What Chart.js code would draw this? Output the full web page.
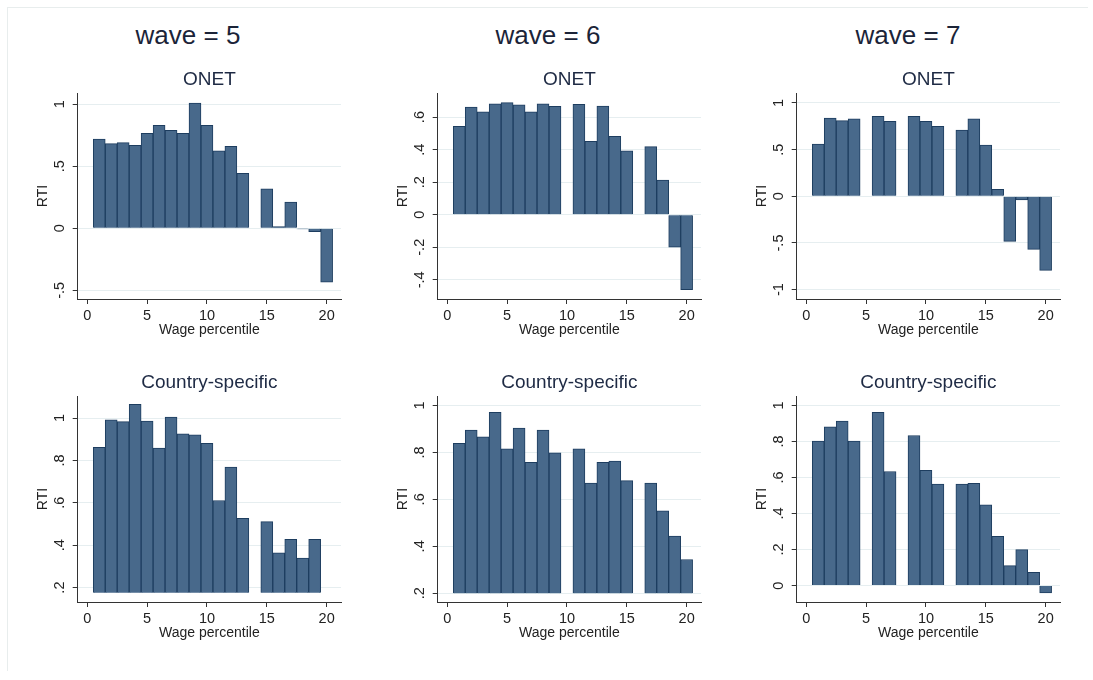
<!DOCTYPE html>
<html>
<head>
<meta charset="utf-8">
<script src="https://cdn.jsdelivr.net/npm/chart.js@4.4.1/dist/chart.umd.min.js"></script>
<style>
  body { margin: 0; background: #fff; width: 1093px; height: 680px; position: relative; overflow: hidden; font-family: 'Liberation Sans', Arial, sans-serif; }
  .frame { position: absolute; left: 7px; top: 7px; width: 1080px; height: 663px; border-left: 1px solid #e8eded; border-top: 1px solid #e8eded; }
  .wave { position: absolute; top: 20px; width: 200px; text-align: center; font-size: 26px; line-height: 30px; color: #1b2438; }
  .panel { position: absolute; }
</style>
</head>
<body>
<div class="frame"></div>
<div class="wave" style="left: 88px;">wave = 5</div>
<div class="wave" style="left: 448px;">wave = 6</div>
<div class="wave" style="left: 808px;">wave = 7</div>
<div id="panels"></div>
<script>
// wage percentiles 1..20, null = no bar
const percentiles = [1,2,3,4,5,6,7,8,9,10,11,12,13,14,15,16,17,18,19,20];

const onetWave5 = [0.718,0.682,0.690,0.669,0.766,0.830,0.790,0.766,1.008,0.830,0.623,0.661,0.443,null,0.317,0.013,0.210,-0.005,-0.027,-0.435];
const onetWave6 = [0.543,0.662,0.633,0.682,0.689,0.676,0.633,0.682,0.666,null,0.678,0.451,0.668,0.482,0.393,null,0.418,0.213,-0.199,-0.461];
const onetWave7 = [0.561,0.839,0.811,0.829,null,0.857,0.804,null,0.857,0.804,0.750,null,0.711,0.829,0.550,0.075,-0.482,-0.039,-0.568,-0.793];

const countryWave5 = [0.862,0.992,0.983,1.065,0.986,0.858,1.005,0.926,0.921,0.881,0.611,0.769,0.527,null,0.511,0.364,0.428,0.339,0.428,null];
const countryWave6 = [0.838,0.895,0.866,0.970,0.815,0.903,0.758,0.895,0.798,null,0.815,0.669,0.758,0.763,0.680,null,0.669,0.551,0.444,0.344];
const countryWave7 = [0.802,0.881,0.913,0.802,null,0.961,0.633,null,0.833,0.639,0.563,null,0.563,0.567,0.448,0.274,0.111,0.200,0.074,-0.041];

const xTicks = [0, 5, 10, 15, 20];
const onetTicks5 = [-0.5, 0, 0.5, 1];
const onetTicks6 = [-0.4, -0.2, 0, 0.2, 0.4, 0.6];
const onetTicks7 = [-1, -0.5, 0, 0.5, 1];
const countryTicks5 = [0.2, 0.4, 0.6, 0.8, 1];
const countryTicks6 = [0.2, 0.4, 0.6, 0.8, 1];
const countryTicks7 = [0, 0.2, 0.4, 0.6, 0.8, 1];

// bar base of each panel
const baseOnet = 0;
const baseCountry5 = 0.176;
const baseCountry6 = 0.2;
const baseCountry7 = 0;

const panels = [
  { title: 'ONET', values: onetWave5, base: baseOnet, ticks: onetTicks5, min: -0.57, max: 1.09, col: 0, row: 0 },
  { title: 'ONET', values: onetWave6, base: baseOnet, ticks: onetTicks6, min: -0.518, max: 0.748, col: 1, row: 0 },
  { title: 'ONET', values: onetWave7, base: baseOnet, ticks: onetTicks7, min: -1.1, max: 1.107, col: 2, row: 0 },
  { title: 'Country-specific', values: countryWave5, base: baseCountry5, ticks: countryTicks5, min: 0.132, max: 1.104, col: 0, row: 1 },
  { title: 'Country-specific', values: countryWave6, base: baseCountry6, ticks: countryTicks6, min: 0.163, max: 1.04, col: 1, row: 1 },
  { title: 'Country-specific', values: countryWave7, base: baseCountry7, ticks: countryTicks7, min: -0.091, max: 1.052, col: 2, row: 1 },
];

const axisX = [77.7, 437.3, 796.7];
const rowTop = [60, 363];
const axisLeft = 67.7;
const canvasW = 340;
const canvasH = 279;
const tickFont = { family: 'Liberation Sans', size: 14.5 };
const textColor = '#222';
const axisColor = '#333';

// Stata style labels: .5 instead of 0.5
function stataFmt(v) {
  const s = String(Math.round(v * 10) / 10);
  return s.replace(/^(-?)0\./, '$1.');
}

const measure = document.createElement('canvas').getContext('2d');
measure.font = '14.5px "Liberation Sans"';

function buildPanel(p) {
  const wrap = document.createElement('div');
  wrap.className = 'panel';
  wrap.style.left = (axisX[p.col] - axisLeft) + 'px';
  wrap.style.top = rowTop[p.row] + 'px';
  const canvas = document.createElement('canvas');
  canvas.width = canvasW;
  canvas.height = canvasH;
  wrap.appendChild(canvas);
  document.getElementById('panels').appendChild(wrap);

  const points = [];
  percentiles.forEach((x, i) => {
    if (p.values[i] !== null) {
      points.push({ x: x, y: [p.base, p.values[i]] });
    }
  });

  // keep rotated y labels centred on one line
  const widest = Math.max(...p.ticks.map((t) => measure.measureText(stataFmt(t)).width));
  const yPad = 12.7 - widest / 2;

  new Chart(canvas, {
    type: 'bar',
    data: {
      datasets: [
        {
          data: points,
          backgroundColor: '#48698b',
          borderColor: '#1d3d5f',
          borderWidth: 1,
          borderSkipped: 'start',
          barPercentage: 1,
          categoryPercentage: 1,
        },
      ],
    },
    options: {
      responsive: false,
      animation: false,
      layout: { padding: { left: 0, right: 9, top: 0, bottom: 0 } },
      plugins: {
        legend: { display: false },
        tooltip: { enabled: false },
        title: {
          display: true,
          fullSize: false,
          text: p.title,
          color: '#1e2a44',
          font: { family: 'Liberation Sans', size: 19, weight: 'normal' },
          padding: { top: 8.6, bottom: 1.6 },
        },
      },
      scales: {
        x: {
          type: 'linear',
          min: -0.8,
          max: 21.2,
          offset: false,
          afterBuildTicks: (scale) => { scale.ticks = xTicks.map((v) => ({ value: v })); },
          afterFit: (scale) => { scale.height = 40; },
          grid: { offset: false, drawOnChartArea: false, tickLength: 5, tickColor: axisColor },
          border: { color: axisColor, width: 1 },
          ticks: { color: textColor, font: tickFont, padding: 3, maxRotation: 0 },
          title: {
            display: true,
            text: 'Wage percentile',
            color: textColor,
            font: { family: 'Liberation Sans', size: 14 },
            padding: { top: 0, bottom: 0.6 },
          },
        },
        y: {
          min: p.min,
          max: p.max,
          afterBuildTicks: (scale) => { scale.ticks = p.ticks.map((v) => ({ value: v })); },
          afterFit: (scale) => { scale.width = axisLeft; },
          grid: { color: '#e6eef0', tickLength: 5, tickColor: axisColor },
          border: { color: axisColor, width: 1 },
          ticks: {
            color: textColor,
            font: tickFont,
            minRotation: 90,
            maxRotation: 90,
            crossAlign: 'center',
            padding: yPad,
            callback: (v) => stataFmt(v),
          },
          title: {
            display: true,
            text: 'RTI',
            color: textColor,
            font: { family: 'Liberation Sans', size: 14 },
            padding: { top: 24.9, bottom: 0 },
          },
        },
      },
    },
  });
}

panels.forEach(buildPanel);
</script>
</body>
</html>
